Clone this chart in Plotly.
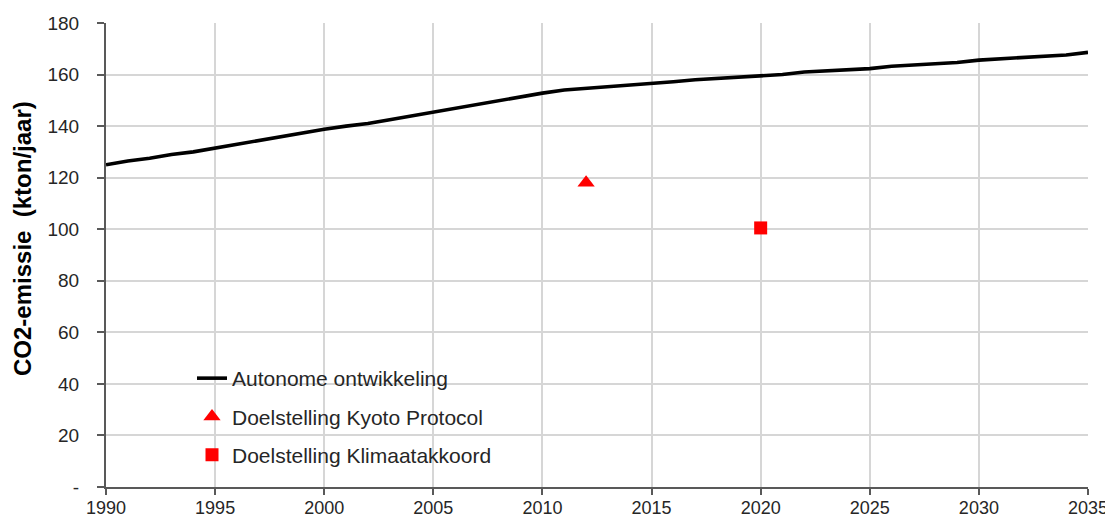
import plotly.graph_objects as go

years = list(range(1990, 2036))
autonoom = [125.0, 126.5, 127.5, 129.0, 130.0, 131.5, 133.0, 134.2, 135.8, 137.3,
            138.8, 140.0, 141.0, 142.5, 144.0, 145.5, 147.0, 148.5, 150.0, 151.5,
            152.8, 154.0, 154.6, 155.5, 156.0, 156.6, 157.2, 158.0, 158.5, 159.0,
            159.4, 160.0, 161.0, 161.4, 161.8, 162.3, 163.2, 163.7, 164.2, 164.7,
            165.6, 166.1, 166.6, 167.1, 167.6, 168.6]
kyoto_year = [2012]
kyoto_value = [118]
klimaat_year = [2020]
klimaat_value = [100.5]

y_tickvals = [0, 20, 40, 60, 80, 100, 120, 140, 160, 180]
y_ticktext = ["-", "20", "40", "60", "80", "100", "120", "140", "160", "180"]
x_tickvals = list(range(1990, 2036, 5))

font_family = "Liberation Sans, Arial, sans-serif"
OFF = 8  # page body margin
W, H = 1105, 511
L, R, T, B = 98, 25, 15, 32
pw, ph = W - L - R, H - T - B

def px(xs):
    return (xs - OFF - L) / pw

def py(ys):
    return (H - B - (ys - OFF)) / ph

fig = go.Figure()
fig.add_trace(go.Scatter(x=years, y=autonoom, mode="lines",
                         name="Autonome ontwikkeling", legendgroup="a",
                         line=dict(color="black", width=3.6)))
fig.add_trace(go.Scatter(x=kyoto_year, y=kyoto_value, mode="markers",
                         name="Doelstelling Kyoto Protocol", legendgroup="b",
                         marker=dict(symbol="triangle-up", color="red", size=15)))
fig.add_trace(go.Scatter(x=klimaat_year, y=klimaat_value, mode="markers",
                         name="Doelstelling Klimaatakkoord", legendgroup="c",
                         marker=dict(symbol="square", color="red", size=13)))

fig.update_layout(
    width=W, height=H,
    margin=dict(l=L, r=R, t=T, b=B),
    paper_bgcolor="white", plot_bgcolor="white",
    font=dict(family=font_family, size=19, color="#262626"),
    showlegend=True,
    legend=dict(x=px(192), y=py(358), xanchor="left", yanchor="top",
                bgcolor="rgba(0,0,0,0)", tracegroupgap=8,
                font=dict(family=font_family, size=21, color="#262626")),
    shapes=[dict(type="rect", xref="paper", yref="paper", layer="between",
                 x0=px(124), x1=px(550), y0=py(473), y1=py(357),
                 fillcolor="white", line=dict(width=0))],
    annotations=[dict(text="<b>CO2-emissie  (kton/jaar)</b>", textangle=-90,
                      xref="paper", yref="paper", x=px(22), y=py(239),
                      xanchor="center", yanchor="middle", showarrow=False,
                      font=dict(family=font_family, size=24, color="black"))],
)
fig.update_xaxes(range=[1990, 2035], tickvals=x_tickvals,
                 showgrid=True, gridcolor="#d6d6d6", gridwidth=1.5,
                 showline=True, linecolor="#595959", linewidth=2,
                 ticks="outside", ticklen=6, tickcolor="#595959", tickwidth=1.5,
                 zeroline=False, tickfont=dict(size=18), automargin=False,
                 ticklabelstandoff=-3)
fig.update_yaxes(range=[0, 180], tickvals=y_tickvals, ticktext=y_ticktext,
                 showgrid=True, gridcolor="#d6d6d6", gridwidth=1.5,
                 showline=True, linecolor="#595959", linewidth=2,
                 ticks="outside", ticklen=7, tickcolor="#595959", tickwidth=1.5,
                 zeroline=False, tickfont=dict(size=19), automargin=False,
                 ticklabelstandoff=14)
fig.write_html("out.html")
